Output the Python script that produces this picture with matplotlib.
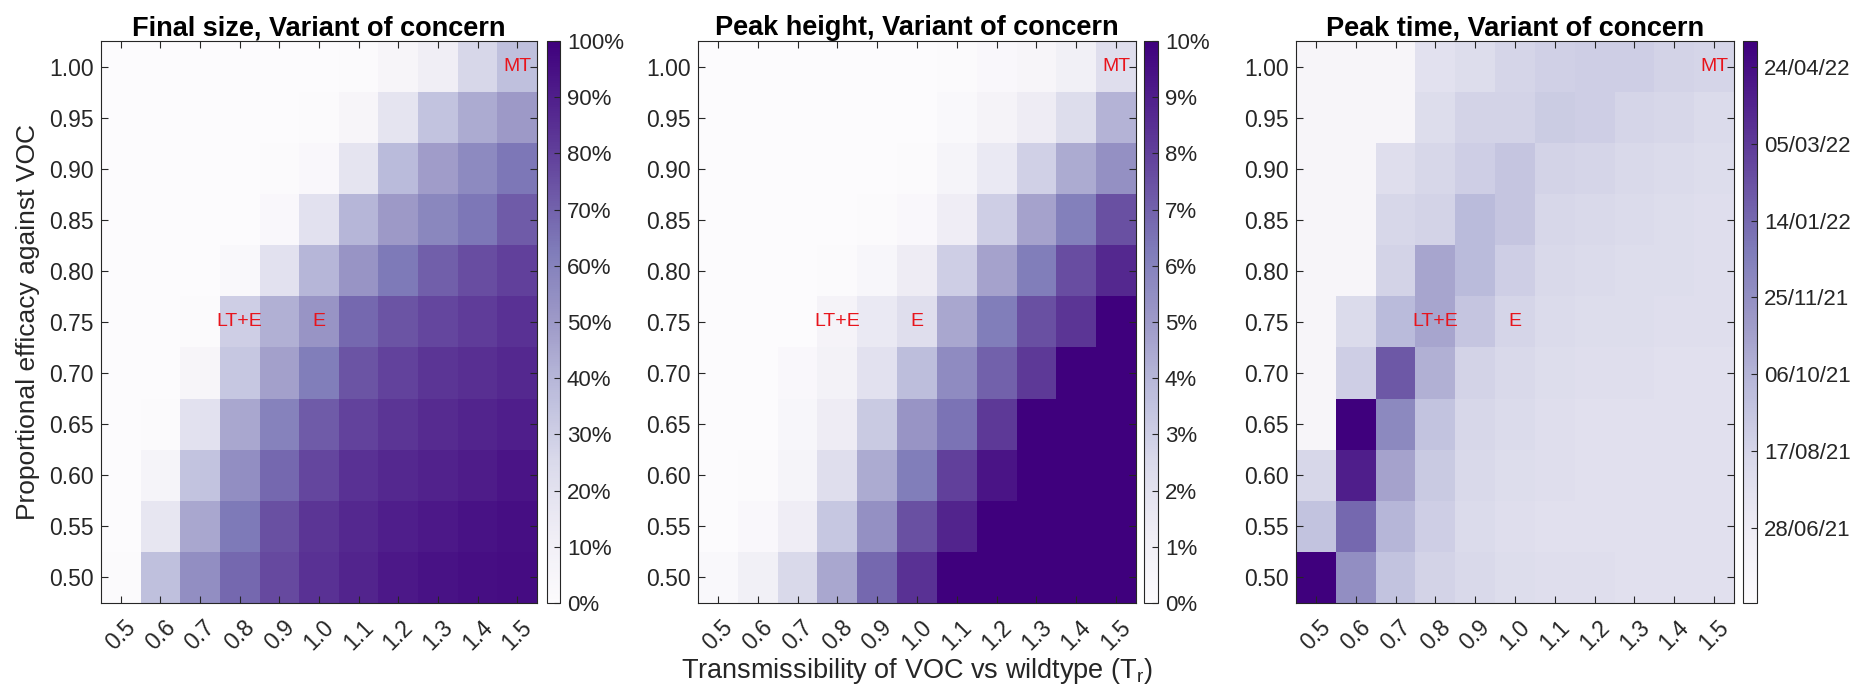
import numpy as np
import matplotlib.pyplot as plt
from datetime import date, timedelta

plt.rcParams['font.family'] = 'Liberation Sans'
plt.rcParams['mathtext.fontset'] = 'custom'
plt.rcParams['mathtext.rm'] = 'Liberation Sans'

transmissibility = [0.5, 0.6, 0.7, 0.8, 0.9, 1.0, 1.1, 1.2, 1.3, 1.4, 1.5]
efficacy = [0.50, 0.55, 0.60, 0.65, 0.70, 0.75, 0.80, 0.85, 0.90, 0.95, 1.00]

# rows listed from efficacy 1.00 (top) down to 0.50 (bottom)
final_size = [
    [0, 0, 0, 0, 0, 0, 1, 5, 11, 26, 36],
    [0, 0, 0, 0, 0, 1, 5, 18, 35, 44, 50],
    [0, 0, 0, 0, 1, 3, 18, 38, 49, 57, 64],
    [0, 0, 0, 0, 3, 20, 40, 50, 58, 64, 72],
    [0, 0, 0, 2, 20, 40, 52, 63, 71, 76, 80],
    [0, 0, 1, 30, 42, 52, 68, 74, 78, 81, 84],
    [0, 0, 5, 33, 48, 62, 74, 79, 83, 85, 87],
    [0, 1, 20, 45, 60, 72, 79, 83, 86, 88, 90],
    [0, 6, 35, 55, 68, 78, 84, 87, 89, 91, 93],
    [0, 17, 45, 63, 75, 83, 87, 90, 92, 94, 95],
    [1, 36, 55, 68, 77, 84, 88, 92, 94, 95, 96],
]

peak_height = [
    [0, 0, 0, 0, 0, 0, 0.1, 0.3, 0.5, 1.0, 2.2],
    [0, 0, 0, 0, 0, 0, 0.2, 0.7, 1.3, 2.3, 4.1],
    [0, 0, 0, 0, 0, 0.1, 0.6, 1.5, 2.9, 4.4, 5.4],
    [0, 0, 0, 0, 0.1, 0.3, 1.2, 3.0, 4.7, 6.1, 7.5],
    [0, 0, 0, 0.1, 0.4, 1.3, 3.0, 4.7, 6.2, 7.6, 8.7],
    [0, 0, 0, 0.7, 1.5, 2.2, 4.5, 6.2, 7.5, 8.3, 10],
    [0, 0, 0.3, 0.8, 2.0, 3.7, 5.6, 7.0, 8.2, 10, 10],
    [0, 0, 0.4, 1.3, 3.2, 5.2, 6.5, 8.2, 10, 10, 10],
    [0, 0.1, 0.6, 2.2, 4.4, 6.2, 8.0, 9.3, 10, 10, 10],
    [0, 0.3, 1.2, 3.3, 5.4, 7.5, 8.8, 10, 10, 10, 10],
    [0.2, 1.0, 2.5, 4.5, 6.8, 8.4, 10, 10, 10, 10, 10],
]

# peak time, days after 10/05/21
peak_start = date(2021, 5, 10)
peak_days = [
    [18, 18, 18, 73, 84, 99, 106, 110, 110, 102, 99],
    [18, 18, 18, 84, 102, 102, 113, 110, 99, 95, 88],
    [18, 18, 81, 95, 110, 124, 102, 99, 92, 88, 84],
    [18, 18, 95, 102, 139, 124, 95, 92, 88, 84, 81],
    [18, 18, 102, 168, 139, 110, 92, 88, 84, 84, 81],
    [18, 88, 139, 168, 124, 99, 88, 84, 84, 81, 81],
    [18, 110, 267, 154, 102, 92, 84, 81, 81, 77, 77],
    [18, 366, 209, 128, 95, 88, 81, 77, 77, 77, 77],
    [95, 329, 172, 117, 92, 84, 81, 77, 77, 77, 77],
    [128, 249, 146, 110, 88, 81, 77, 77, 77, 77, 77],
    [366, 201, 128, 102, 92, 84, 81, 81, 77, 77, 77],
]
peak_span = 366
date_ticks = [date(2021, 6, 28), date(2021, 8, 17), date(2021, 10, 6), date(2021, 11, 25),
              date(2022, 1, 14), date(2022, 3, 5), date(2022, 4, 24)]

titles = ['Final size, Variant of concern', 'Peak height, Variant of concern',
          'Peak time, Variant of concern']

W, H = 1856, 692
fig = plt.figure(figsize=(W / 100, H / 100), dpi=100)


def px_axes(l, r, t, b):
    return fig.add_axes([l / W, 1 - b / H, (r - l) / W, (b - t) / H])


dark = '#262626'
dx = transmissibility[1] - transmissibility[0]
dy = efficacy[1] - efficacy[0]
extent = [transmissibility[0] - dx / 2, transmissibility[-1] + dx / 2,
          efficacy[0] - dy / 2, efficacy[-1] + dy / 2]

layout = [(101, 537, 547, 560), (698, 1136, 1144, 1158), (1296, 1734, 1743, 1757)]
panels = [
    (final_size, 0, 100, np.arange(0, 101, 10), [f'{v}%' for v in range(0, 101, 10)]),
    (peak_height, 0, 10, np.arange(0, 11, 1), [f'{v}%' for v in range(0, 11)]),
    (peak_days, 0, peak_span, [(d - peak_start).days for d in date_ticks],
     [d.strftime('%d/%m/%y') for d in date_ticks]),
]

axes = []
for i, ((l, r, cl, cr), (vals, vmin, vmax, cticks, clabels)) in enumerate(zip(layout, panels)):
    ax = px_axes(l, r, 41, 603)
    im = ax.imshow(np.array(vals, dtype=float), cmap='Purples', vmin=vmin, vmax=vmax,
                   extent=extent, aspect='auto', interpolation='nearest')
    ax.set_xticks(transmissibility)
    ax.set_xticklabels([f'{t:.1f}' for t in transmissibility], rotation=45, ha='center')
    ax.set_yticks(efficacy)
    ax.set_yticklabels([f'{e:.2f}' for e in efficacy])
    ax.tick_params(direction='in', top=True, right=True, length=5, width=0.8,
                   colors=dark, labelsize=16.5)
    ax.tick_params(axis='x', pad=9)
    ax.tick_params(axis='y', pad=5)
    for s in ax.spines.values():
        s.set_color(dark)
        s.set_linewidth(0.8)
    ax.set_title(titles[i], fontsize=19.5, fontweight='bold', pad=4)

    ax.text(1.5, 1.0, 'MT', color='#e8141c', ha='center', va='center', fontsize=14)
    ax.text(0.8, 0.75, 'LT+E', color='#e8141c', ha='center', va='center', fontsize=14)
    ax.text(1.0, 0.75, 'E', color='#e8141c', ha='center', va='center', fontsize=14)

    cax = px_axes(cl, cr, 41, 603)
    cb = fig.colorbar(im, cax=cax)
    cb.set_ticks(cticks)
    cb.set_ticklabels(clabels)
    cb.ax.tick_params(direction='in', length=4, width=0.8, colors=dark, labelsize=16, pad=5)
    cb.outline.set_edgecolor(dark)
    cb.outline.set_linewidth(0.8)
    axes.append(ax)

axes[0].set_ylabel('Proportional efficacy against VOC', fontsize=19, color=dark)
axes[0].yaxis.set_label_coords(-0.14, 0.5)
axes[1].set_xlabel(r'Transmissibility of VOC vs wildtype (T$_{\mathrm{r}}$)', fontsize=19.5, color=dark)
axes[1].xaxis.set_label_coords(0.5, -0.095)

fig.savefig('out.png', dpi=100)
